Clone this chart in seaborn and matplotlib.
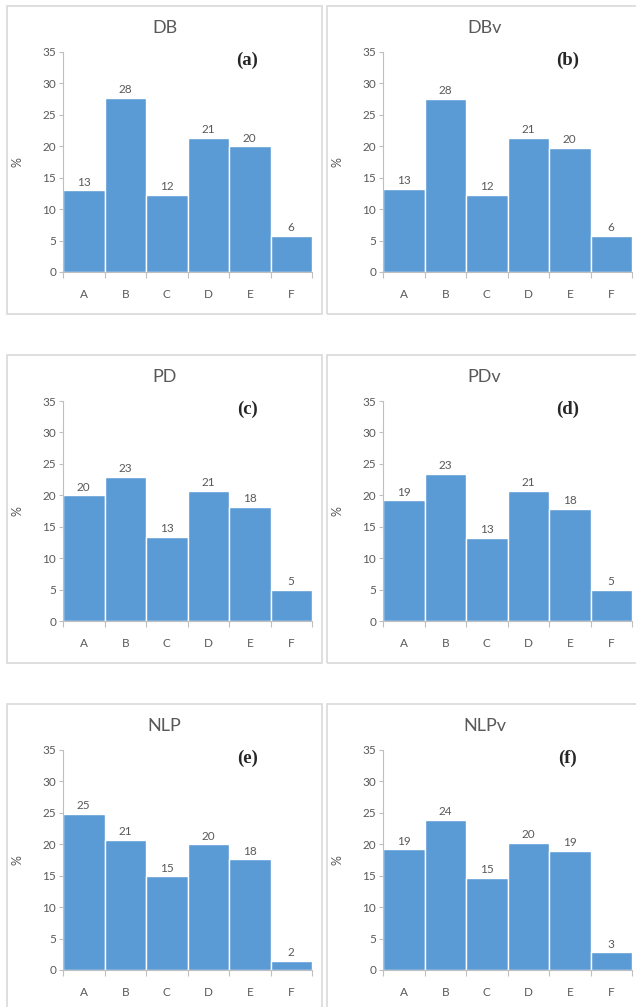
import matplotlib
matplotlib.use("Agg")
import matplotlib.pyplot as plt
from matplotlib.patches import Rectangle
import seaborn as sns

# categories and values
categories = ["A", "B", "C", "D", "E", "F"]
db = [13.0, 27.7, 12.3, 21.3, 20.0, 5.7]
dbv = [13.2, 27.6, 12.3, 21.3, 19.7, 5.7]
pd_ = [20.0, 22.9, 13.4, 20.7, 18.1, 5.0]
pdv = [19.2, 23.4, 13.2, 20.7, 17.8, 5.0]
nlp = [24.8, 20.7, 14.9, 20.0, 17.6, 1.5]
nlpv = [19.2, 23.9, 14.6, 20.2, 19.0, 2.8]

titles = ["DB", "DBv", "PD", "PDv", "NLP", "NLPv"]
tags = ["(a)", "(b)", "(c)", "(d)", "(e)", "(f)"]
series = [db, dbv, pd_, pdv, nlp, nlpv]

sns.set_style("white")
plt.rcParams['font.family'] = ['Lato', 'DejaVu Sans']

BAR = "#5B9BD5"
TXT = "#595959"
AXC = "#BFBFBF"
BOX = "#D9D9D9"

W, H = 636, 1007
fig = plt.figure(figsize=(W / 100, H / 100), dpi=100)

box_tops = [6, 355, 704]
for i, (vals, title, tag) in enumerate(zip(series, titles, tags)):
    r, c = divmod(i, 2)
    bx = 7 + c * 320
    by = box_tops[r]
    bw, bh = 315, 308

    # light grey frame around each chart
    fig.patches.append(Rectangle((bx / W, 1 - (by + bh) / H), bw / W, bh / H,
                                 transform=fig.transFigure, fill=False,
                                 edgecolor=BOX, lw=1.2))

    ax = fig.add_axes([(bx + 56) / W, 1 - (by + 266) / H, 249 / W, 220 / H])
    sns.barplot(x=categories, y=vals, color=BAR, saturation=1, width=1,
                edgecolor="white", linewidth=1, ax=ax)
    ax.bar_label(ax.containers[0], fmt="{:.0f}", padding=2, fontsize=8.5, color=TXT)

    ax.set_xlim(-0.5, 5.5)
    ax.set_ylim(0, 35)
    ax.set_yticks(range(0, 36, 5))
    ax.set_xticks(range(6), categories)
    ax.set_xticks([x - 0.5 for x in range(7)], minor=True)
    ax.tick_params(axis="x", which="major", length=0, pad=12, labelsize=8.5, labelcolor=TXT)
    ax.tick_params(axis="x", which="minor", length=4, color=AXC, width=0.8)
    ax.tick_params(axis="y", length=3, color=AXC, width=0.8, pad=2, labelsize=8.5, labelcolor=TXT)
    ax.tick_params(left=True, bottom=True, which="both")
    for s in ["top", "right"]:
        ax.spines[s].set_visible(False)
    for s in ["left", "bottom"]:
        ax.spines[s].set_color(AXC)
        ax.spines[s].set_linewidth(0.8)

    ax.set_xlabel("")
    ax.set_ylabel("%", fontsize=9, color=TXT)
    ax.yaxis.set_label_coords(-0.16, 0.5)

    fig.text((bx + bw / 2) / W, 1 - (by + 22) / H, title, ha="center", va="center",
             fontsize=13, color=TXT)
    ax.text(0.74, 0.96, tag, transform=ax.transAxes, ha="center", va="center",
            fontsize=13.5, fontweight="bold", family=["Liberation Serif", "DejaVu Serif"])

fig.savefig("out.png", dpi=100)
